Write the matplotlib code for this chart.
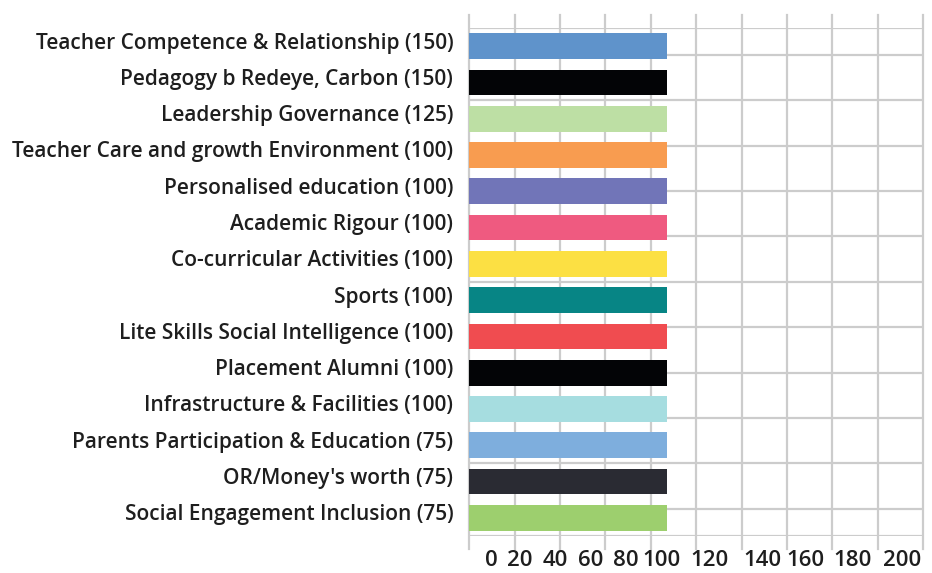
import matplotlib
matplotlib.use("Agg")
import matplotlib.pyplot as plt
from matplotlib import transforms

categories = [
    "Teacher Competence & Relationship (150)",
    "Pedagogy b Redeye, Carbon (150)",
    "Leadership Governance (125)",
    "Teacher Care and growth Environment (100)",
    "Personalised education (100)",
    "Academic Rigour (100)",
    "Co-curricular Activities (100)",
    "Sports (100)",
    "Lite Skills Social Intelligence (100)",
    "Placement Alumni (100)",
    "Infrastructure & Facilities (100)",
    "Parents Participation & Education (75)",
    "OR/Money's worth (75)",
    "Social Engagement Inclusion (75)",
]
values = [87, 87, 87, 87, 87, 87, 87, 87, 87, 87, 87, 87, 87, 87]
colors = ["#5f93cb", "#030406", "#bddfa4", "#f89c50", "#7175b8", "#ef5a80",
          "#fce043", "#078585", "#f04c50", "#030406", "#a6dde0", "#7eaedd",
          "#2a2b33", "#9dcf6e"]
tick_values = [0, 20, 40, 60, 80, 100, 120, 140, 160, 180, 200]
tick_labels = ["0", "20", "40", "60", "80", "100", "120", "140", "160", "180", "200"]
# apparent (shifted) label positions as drawn in the source
label_positions = [9.9, 22.4, 38.1, 53.6, 69.0, 84.8, 105.7, 129.4, 148.3, 168.9, 191.0]

FONT = ["Open Sans", "DejaVu Sans"]
plt.rcParams['font.family'] = FONT

W, H = 932, 573
fig = plt.figure(figsize=(W / 100, H / 100), dpi=100)
left, right, top, bottom = 469.3, 923.0, 28.0, 536.0
ax = fig.add_axes([left / W, 1 - bottom / H, (right - left) / W, (bottom - top) / H])

grid_c = "#cccccc"
n = len(categories)
ypos = list(range(n))
ax.barh(ypos, values, height=0.71, color=colors, zorder=3)
ax.set_ylim(n - 0.5, -0.5)
ax.set_xlim(0, 200)

# horizontal grid lines (square grid, same pixel spacing as vertical one)
band = (bottom - top) / n
xstep_px = (right - left) / 10
hy = []
p = 27.0
while p < bottom - top - 5:
    hy.append(-0.5 + p / band)
    p += xstep_px
for y in hy + [-0.5, n - 0.5]:
    ax.axhline(y, color=grid_c, lw=1.6, zorder=1)

# vertical grid lines extending above & below axes
ext = 13 / (bottom - top)
for x in tick_values:
    ax.plot([x, x], [-ext, 1 + ext], color=grid_c, lw=1.6, zorder=1,
            transform=ax.get_xaxis_transform(), clip_on=False)

for s in ax.spines.values():
    s.set_visible(False)

ax.set_yticks(ypos)
ax.set_yticklabels(categories, fontsize=15, fontweight="semibold", color="#1e1e1e")
ax.tick_params(axis="y", length=0, pad=11.5)
shift = transforms.ScaledTranslation(0, 5.5 / 100, fig.dpi_scale_trans)
for lab in ax.get_yticklabels():
    lab.set_transform(lab.get_transform() + shift)

ax.set_xticks(label_positions)
ax.set_xticklabels(tick_labels, fontsize=16, fontweight="semibold", color="#1e1e1e")
ax.tick_params(axis="x", length=0, pad=10)

fig.savefig("out.png", dpi=100)
